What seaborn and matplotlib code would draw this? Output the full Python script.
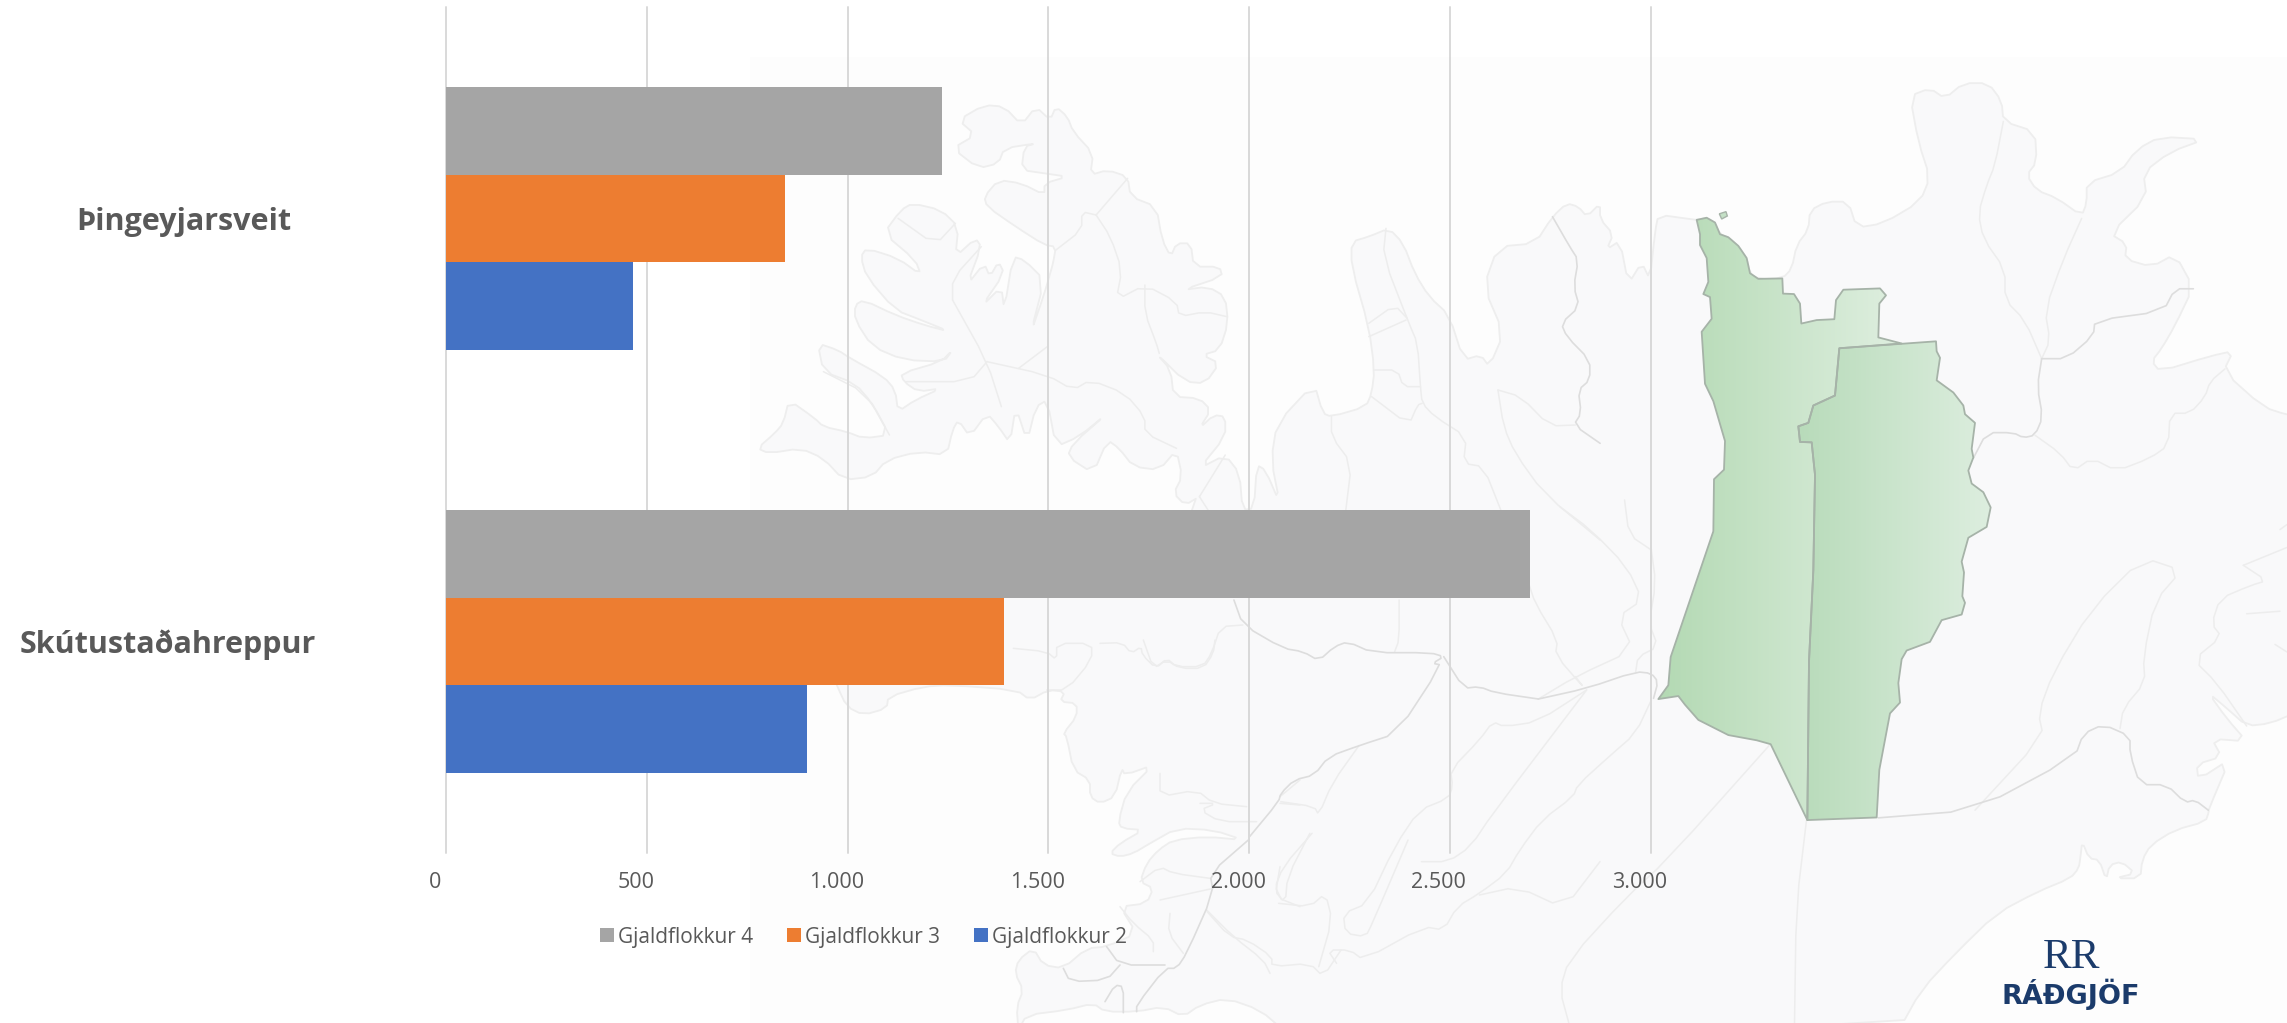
# Gjaldflokkar per sveitarfelag, bars on top of a faint map of Iceland

import numpy as np
import pandas as pd
import matplotlib
matplotlib.use("Agg")
import matplotlib.pyplot as plt
from matplotlib.colors import LinearSegmentedColormap
from matplotlib.patches import Polygon, Rectangle
from matplotlib.transforms import ScaledTranslation
import seaborn as sns

# chart data
sveitarfelog = ["Þingeyjarsveit", "Skútustaðahreppur"]
gjaldflokkar = ["Gjaldflokkur 4", "Gjaldflokkur 3", "Gjaldflokkur 2"]
gjaldflokkur_4 = [1235, 2700]
gjaldflokkur_3 = [845, 1390]
gjaldflokkur_2 = [465, 900]
x_ticks = [0, 500, 1000, 1500, 2000, 2500, 3000]
x_labels = ["0", "500", "1.000", "1.500", "2.000", "2.500", "3.000"]
bar_colors = ["#A5A5A5", "#ED7D31", "#4472C4"]
text_color = "#595959"
logo_color = "#1B3B6B"

W, H = 2287, 1023

def z1(p): return [(1600 + x / 3, 180 + y / 2.306) for x, y in p]
def z4(p): return [(700 + x / 1.742, 60 + y / 3) for x, y in p]
def z5(p): return [(1100 + x / 2.24, 500 + y / 3) for x, y in p]
def z6(p): return [(1850 + x / 3, 50 + y / 1.96) for x, y in p]
def z7(p): return [(800 + x / 3, 640 + y / 3) for x, y in p]
def z9(p): return [(1750 + x / 2.92, 800 + y / 3) for x, y in p]

# round off the corners of a traced outline so it looks less like a polygon
def soften(p, closed=False):
    out = [] if closed else [p[0]]
    n = len(p) if closed else len(p) - 1
    for i in range(n):
        a, b = p[i], p[(i + 1) % len(p)]
        out.append((0.75 * a[0] + 0.25 * b[0], 0.75 * a[1] + 0.25 * b[1]))
        out.append((0.25 * a[0] + 0.75 * b[0], 0.25 * a[1] + 0.75 * b[1]))
    if not closed:
        out.append(p[-1])
    return out

coast = (
    z4([(100,1165),(130,1120),(145,1090),(155,1020),(200,1075),(215,1100),(255,1115),(285,1135),(330,1125),
        (300,1030),(270,970),(215,935),(205,850),(240,870),(262,895),(320,950),(340,990),(345,1055),(375,1020),
        (420,985),(380,995),(355,965),(350,940),(420,905),(440,870),(425,905),(355,900),(300,860),(270,780),
        (270,735),(285,720),(340,765),(390,795),(435,815),(385,780),(340,750),(290,650),(280,590),(290,565),
        (345,595),(385,645),(375,600),(320,520),(350,450),(370,430),(420,450),(450,500),(445,590),(480,535),
        (490,560),(465,675),(495,610),(505,650),(520,605),(530,640),(490,740),(525,680),(530,750),(545,590),
        (565,600),(600,660),(575,825),(600,700),(610,640),(615,610),(620,560),(600,555),(550,500),(500,440),
        (495,410),(520,360),(560,370),(600,405),(600,370),(640,350),(600,340),(560,330),(565,260),(585,250),
        (530,265),(520,310),(485,325),(440,265),(480,225),(450,180),(495,135),(530,140),(560,195),(585,140),
        (610,180),(620,140),(640,170),(650,215),(685,280),(680,345),(710,330),(745,350),(750,410),(795,440),
        (805,540),(820,590),(830,550),(855,550),(860,620),(905,620),(910,650),(840,690),(885,680),(915,710),
        (920,790),(905,870),(875,885),(905,910),(880,970),(845,965),(795,880),(820,930),(825,1010),(870,1015),
        (890,1050),(870,1105),(895,1065),(915,1070),(915,1130),(870,1225),(915,1185),(940,1240),(945,1350),
        (965,1345),(970,1215),(985,1230),(1010,1330),(995,1200),(1005,1090),(1070,970),(1085,1060),(1100,1070),
        (1160,1040),(1170,1000),(1175,930),(1165,800),(1135,620),(1135,545),(1165,530),(1200,505),(1225,550),
        (1245,640),(1270,710),(1305,765),(1330,900),(1360,885),(1375,920),(1400,820),(1365,680),(1390,560),
        (1455,550),(1485,470),(1510,430),(1530,440),(1545,470),(1568,430)])
    + z1([(0,90),(40,125),(20,160),(60,140),(85,240),(125,190),(150,230),(165,120),(175,80),(270,90),(290,92),
          (320,87),(345,98),(360,125),(385,132),(415,152),(440,180),(450,215),(475,228),(547,227),(575,205),
          (590,150),(625,115),(630,70),(680,50),(745,50),(770,110),(850,100),(960,50)])
    + z6([(240,250),(205,180),(180,90),(240,75),(285,95),(340,65),(415,65),(455,100),(460,140),(555,160),
          (560,220),(530,245),(560,275),(620,290),(695,325),(710,300),(710,260),(810,240),(860,195),(930,170),
          (1065,175),(960,200),(880,240),(890,290),(780,360),(830,380),(825,410),(905,425),(975,400),(1030,465),
          (975,540),(935,585),(905,610),(930,630),(1080,600),(1150,590),(1120,630),(1240,700),(1311,715)])
    + [(2295, 415), (2295, 713)]
    + z6([(1260,1320),(1190,1325),(1130,1290),(1075,1260),(1130,1310),(1190,1355),(1085,1350),(1115,1385),
          (1040,1400),(1045,1430),(1140,1390),(1075,1490)])
    + z9([(1340,35),(1330,65),(1240,90),(1170,135),(1145,180),(1140,235),(1065,235),(1125,220),(1085,185),
          (1050,195),(1040,240),(1020,180),(990,175),(970,125),(965,170),(960,205),(935,235),(840,275),(720,340),
          (600,460),(500,570),(435,690)])
    + z7([(1450,1170),(1380,1110),(1280,1075),(1200,1095),(1150,1130),(1090,1100),(1010,1115),(915,1115),
          (880,1090),(800,1110),(680,1125),(655,1170),(650,1100),(670,1050),(645,1000),(655,960),(700,925),
          (730,975),(790,985),(860,925),(920,920),(1010,880),(960,800),(1040,790),(1060,745),(1020,725),
          (1040,670),(1075,630),(1120,600),(1220,590),(1330,600),(1240,570),(1130,565),(1050,610),(1000,640),
          (960,650),(930,640),(960,610),(1030,570),(965,565),(955,545),(980,455),(1060,375),(975,405),(965,385),
          (945,470),(900,490),(870,470),(870,420),(820,390),(800,290),(790,280),(830,230),(830,190),(780,185),
          (795,155),(745,150),(690,180),(650,150),(450,135),(370,140),(265,170),(260,205),(190,225),(140,200),
          (110,135)])
    + [(800, 600), (1003, 590), (1156, 590)]
    + z4([(870,1310),(845,1335),(825,1300),(840,1250),(830,1170),(800,1230),(755,1220),(730,1165),(710,1140),
          (685,1240),(640,1190),(650,1150),(710,1060),(660,1130),(620,1160),(605,1020),(585,1040),(570,1145),
          (550,1040),(540,1150),(520,1100),(500,1060),(470,1130),(450,1080),(440,1110),(430,1185),(380,1175),
          (325,1200),(300,1250),(250,1260),(215,1195),(175,1165),(120,1180)])
)

light_lines = [
    z4(p) for p in [
        [(440,720),(500,905),(525,1040)], [(440,720),(440,655),(490,560)],
        [(500,905),(605,945),(650,990),(680,960),(740,1000),(775,1070),(775,1120),(830,1165)],
        [(500,905),(470,965),(360,965)], [(605,860),(555,925)], [(690,465),(745,355)],
        [(690,465),(665,455),(665,510),(620,570)],
        [(690,465),(715,530),(735,630),(725,720),(775,675),(830,725),(835,770),(880,755),(918,770)],
        [(775,675),(775,760),(795,850),(800,880)], [(345,475),(410,555),(445,490)],
        [(215,935),(290,1000),(330,1125)], [(870,1310),(915,1185)], [(870,1310),(885,1350)],
        [(1195,505),(1190,590),(1235,790),(1250,850),(1255,980),(1258,1030),(1280,1070),(1335,1130),(1330,1210),(1365,1220),(1395,1350)],
        [(1175,930),(1215,930),(1225,980),(1255,980)], [(1165,790),(1210,735),(1232,775)], [(1165,830),(1230,780)],
        [(1170,1010),(1235,1095),(1250,1035),(1258,1030)], [(1100,1070),(1100,1130),(1135,1210),(1125,1350)],
        [(1390,990),(1430,1010),(1480,1098),(1525,1095)], [(1390,990),(1400,1100),(1420,1180),(1470,1300),(1568,1440)],
    ]
] + [
    z5(p) for p in [
        [(982,597),(1065,530),(1195,450),(1160,350),(1215,300),(1180,200),(1100,90),(1030,20)],
        [(1065,530),(1085,565),(1020,465),(1025,420),(975,310),(960,250)],
        [(1235,150),(1185,105),(1175,0)], [(1235,150),(1245,250),(1230,370),(1250,440),(1205,470),(1200,515)],
        [(1090,570),(980,665),(905,680),(880,665),(850,720),(785,810),(790,860),(780,895),(715,930),(660,1040),(600,1210),(545,1240),(550,1300),(595,1310),(610,1270),(690,1020)],
        [(1235,600),(1200,700),(1140,770),(1070,855),(1060,890),(990,960),(940,1050),(910,1120),(850,1180),(800,1220),(770,1290),(725,1280),(590,1380),(560,1350),(510,1350),(530,1390)],
        [(1090,570),(880,940),(830,1040),(780,1085),(720,1085)],
        [(1500,735),(1270,1080),(1180,1190),(1050,1380),(1030,1470),(1050,1568)],
        [(0,430),(50,428),(70,460),(92,440),(95,465),(125,505),(150,475),(170,500),(230,500),(250,460),(270,380),(320,375)],
        [(670,300),(670,420),(660,455)], [(405,905),(480,920),(490,945),(520,850),(580,737)],
        [(240,1235),(290,1310),(330,1320),(385,1370),(385,1400),(470,1390),(500,1430),(540,1350)],
        [(1120,1085),(1040,1225),(935,1160),(850,1185)], [(475,1000),(410,1100),(390,1170),(415,1210),(420,1130),(470,1000)],
        [(400,1210),(470,1220),(505,1180),(520,1260),(490,1400)],
    ]
] + [
    z6(p) for p in [
        [(460,140),(435,225),(410,265),(385,320),(400,370),(465,430),(465,490),(525,530),(575,605)],
        [(695,330),(640,410),(585,510),(600,570),(575,605)],
        [(555,755),(630,790),(670,825),(725,800),(800,825),(900,800),(955,775),(960,712),(1020,712),(1065,680),(1080,650),(1125,625)],
        [(375,1490),(580,1345),(565,1300),(610,1220),(725,1095),(880,995),(995,1020),(915,1080),(880,1190),(885,1240),(820,1290),(810,1330)],
        [(1180,1010),(1311,975)],
        [(1180,1010),(1250,1040),(1200,1050),(1110,1075),(1085,1125),(1115,1150),(1030,1195),(1100,1240),(1190,1325)],
        [(1190,1105),(1290,1100)], [(1275,1165),(1311,1180)], [(1290,940),(1311,930)],
    ]
] + [
    z7(p) for p in [
        [(1020,725),(1080,680),(1120,700),(1230,715)], [(1080,780),(1240,745)], [(1110,820),(1105,880),(1150,940)],
        [(960,800),(1000,850),(1060,900),(1060,935)], [(1080,400),(1080,470),(1190,450),(1240,490),(1340,500)],
        [(1200,490),(1250,490),(1200,510),(1260,545),(1370,545)], [(1440,470),(1500,420)], [(1440,490),(1500,495)],
        [(1440,680),(1425,770),(1500,800)], [(640,25),(740,35),(770,60),(770,10),(875,10),(875,60),(800,150),(740,150)],
        [(1030,0),(1060,85),(1100,60),(1140,85),(1210,85),(1240,40),(1245,0)],
        [(1220,810),(1300,890),(1390,960),(1410,1000)],
    ]
] + [z9([(165,60),(135,320),(130,669)])]

dark_lines = [
    z4([(1485,470),(1515,560),(1530,600),(1522,680),(1532,740),(1500,790),(1510,830),(1550,900),(1550,960),(1530,990),(1535,1060),(1522,1095),(1568,1150)]),
    z5([(300,300),(320,375),(410,445),(455,455),(490,482),(525,440),(555,425),(610,458),(740,458),(770,470),(745,490),(765,495),(665,700),(580,737),(512,770),(480,825),(435,840),(405,880),(400,905),(335,1010)]),
    z5([(770,470),(815,565),(850,560),(885,578),(982,597)]),
    z5([(982,597),(1090,565),(1200,515),(1235,520),(1250,545),(1240,595)]),
    z7([(1345,600),(1230,700),(1240,760),(1160,940),(1130,985),(1095,985),(1010,1095),(1010,1115)]),
    z7([(920,920),(960,975),(1095,975)]),
    z7([(960,975),(920,1020),(810,1025),(790,985)]),
    z7([(915,1085),(945,1035),(970,1040),(970,1118)]),
    z6([(575,605),(650,605),(730,560),(735,530),(940,512),(975,468),(1030,468)]),
    z6([(575,605),(562,660),(578,720),(555,755),(520,760),(490,750),(410,750),(370,800)]),
    z6([(85,1505),(375,1490),(675,1385),(700,1340),(760,1322),(840,1345),(840,1380),(870,1440),(950,1440),(1005,1475),(1035,1470),(1075,1490)]),
]

green_left = z1([(290,92),(320,87),(345,98),(360,125),(385,132),(415,152),(440,180),(450,215),(475,228),(547,227),
    (549,262),(582,263),(600,285),(604,331),(650,323),(703,321),(708,277),(730,253),(840,250),(858,266),(838,285),
    (835,363),(905,377),(718,388),(705,497),(640,520),(625,560),(595,568),(600,604),(635,605),(645,680),(640,900),
    (627,1110),(622,1476),(512,1301),(470,1292),(385,1280),(295,1245),(255,1210),(235,1190),(175,1197),(205,1165),
    (212,1100),(340,810),(342,690),(372,668),(375,602),(340,510),(315,470),(305,350),(335,320),(330,270),(310,263),
    (325,235),(320,180),(300,150),(300,125)])
green_right = z1([(718,388),(1008,372),(1010,395),(1020,410),(1010,462),(1060,490),(1090,520),(1095,540),(1125,560),
    (1115,620),(1120,640),(1105,670),(1115,700),(1150,720),(1172,755),(1160,800),(1105,825),(1085,880),(1092,905),
    (1087,960),(1095,975),(1085,1002),(1025,1015),(990,1065),(920,1085),(905,1105),(895,1160),(900,1205),(870,1230),
    (838,1360),(830,1470),(622,1476),(627,1110),(640,900),(645,680),(635,605),(600,604),(595,568),(625,560),(640,520),
    (705,497)])
island = z1([(358,78),(378,73),(382,83),(365,90)])

df = pd.DataFrame({
    "sveitarfelag": sveitarfelog * 3,
    "gjaldflokkur": np.repeat(gjaldflokkar, 2),
    "fjoldi": gjaldflokkur_4 + gjaldflokkur_3 + gjaldflokkur_2,
})

sns.set_theme(style="whitegrid", rc={"grid.color": "#D9D9D9", "grid.linewidth": 1.4})
plt.rcParams["font.family"] = ["Open Sans", "DejaVu Sans"]

fig = plt.figure(figsize=(W / 100, H / 100), dpi=100, facecolor="white")

# background map lives in its own axes in pixel coordinates
bg = fig.add_axes([0, 0, 1, 1], zorder=0)
bg.set_xlim(0, W)
bg.set_ylim(H, 0)
bg.axis("off")
bg.add_patch(Rectangle((750, 57), W - 750, H - 57, fc="#FDFDFD", ec="none"))
bg.add_patch(Polygon(soften(coast, closed=True), closed=True, fc="#F9F9FA", ec="#EEEEEE", lw=1.3, joinstyle="round"))
for line in light_lines:
    bg.plot(*zip(*soften(line)), color="#EDEDED", lw=1.1, solid_joinstyle="round")
for line in dark_lines:
    bg.plot(*zip(*soften(line)), color="#DDDDDD", lw=1.2, solid_joinstyle="round")

# green areas get a left to right gradient, clipped to the polygon
for poly, c0, c1 in [(green_left, "#B3D9B3", "#DFEFE0"), (green_right, "#B8DBBA", "#DDEEDF")]:
    xs = [p[0] for p in poly]
    ys = [p[1] for p in poly]
    cmap = LinearSegmentedColormap.from_list("g", [c0, c1])
    img = bg.imshow(np.linspace(0, 1, 256)[None, :], cmap=cmap, aspect="auto",
                    extent=(min(xs), max(xs), max(ys), min(ys)), zorder=2)
    patch = Polygon(poly, closed=True, fc="none", ec="#A6B3A8", lw=1.3, zorder=3, joinstyle="round")
    bg.add_patch(patch)
    img.set_clip_path(patch)
bg.add_patch(Polygon(island, closed=True, fc="#C4E0C6", ec="#A6B3A8", lw=1, zorder=3))
bg.set_xlim(0, W)
bg.set_ylim(H, 0)

# the chart itself, transparent over the map
left, right, top, bottom = 446, 1650.5, 7, 853
ax = fig.add_axes([left / W, 1 - bottom / H, (right - left) / W, (bottom - top) / H], zorder=1)
ax.patch.set_alpha(0)

sns.barplot(data=df, y="sveitarfelag", x="fjoldi", hue="gjaldflokkur", order=sveitarfelog,
            hue_order=gjaldflokkar, palette=bar_colors, saturation=1, width=0.621, gap=0,
            errorbar=None, linewidth=0, ax=ax)

ax.set_xlim(0, 3000)
ax.set_ylim(1.5, -0.5)
ax.set_axisbelow(True)
ax.grid(axis="y", visible=False)
ax.set_xlabel("")
ax.set_ylabel("")
sns.despine(ax=ax, left=True, bottom=True)
ax.tick_params(axis="both", length=0)

ax.set_xticks(x_ticks)
ax.set_xticklabels(x_labels, fontsize=15.5, color=text_color)
ax.tick_params(axis="x", pad=14)
shift = ScaledTranslation(-11 / 100, 0, fig.dpi_scale_trans)
for lab in ax.get_xticklabels():
    lab.set_transform(lab.get_transform() + shift)
# first and last gridline sit on the axes edge, dont cut them in half
for g in ax.get_xgridlines():
    g.set_clip_on(False)

ax.set_yticks([0, 1])
ax.set_yticklabels(sveitarfelog, fontsize=22, fontweight="bold", color=text_color)
ax.tick_params(axis="y", pad=0)
for lab, cx in zip(ax.get_yticklabels(), [184, 168]):
    lab.set_ha("center")
    lab.set_x((cx - left) / (right - left))

handles, labels = ax.get_legend_handles_labels()
ax.legend(handles, labels, ncol=3, frameon=False, loc="center left",
          bbox_to_anchor=(600 / W, 1 - 937 / H), bbox_transform=fig.transFigure,
          fontsize=15, labelcolor=text_color, handlelength=0.67, handleheight=0.67,
          handletextpad=0.2, columnspacing=1.62, borderpad=0, borderaxespad=0)

# logo, bottom right
bg.text(2071, 968, "RR", family="Liberation Serif", fontsize=31, color=logo_color, va="baseline", ha="center")
bg.text(2070.5, 1004, "RÁÐGJÖF", family="DejaVu Sans", fontsize=19.5, fontweight="bold", color=logo_color,
        va="baseline", ha="center")

fig.savefig("out.png", dpi=100)
